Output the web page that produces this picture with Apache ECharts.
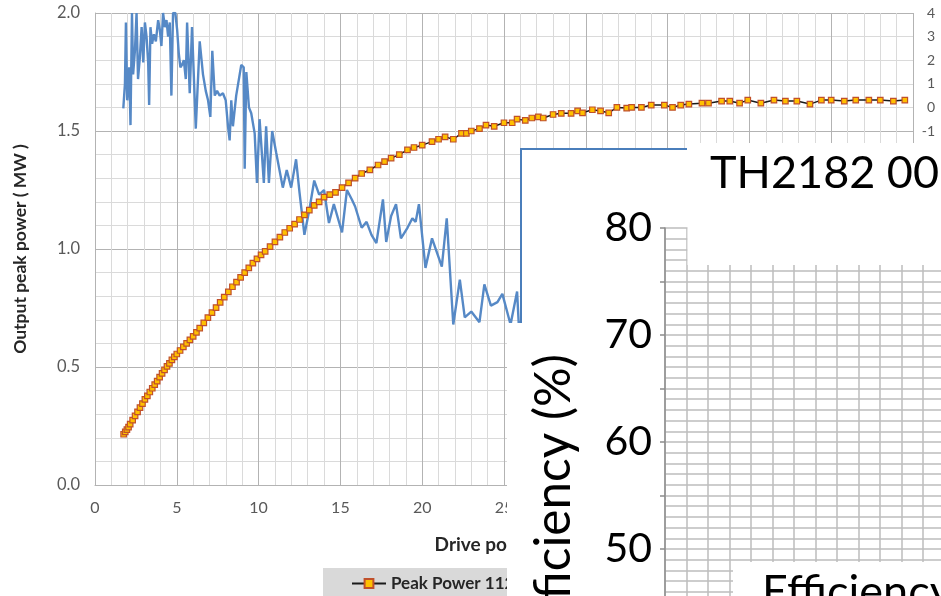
<!DOCTYPE html>
<html><head><meta charset="utf-8">
<script src="https://cdn.jsdelivr.net/npm/echarts@6/dist/echarts.min.js"></script>
<style>html,body{margin:0;padding:0;background:#fff}#c{width:941px;height:596px}</style>
</head><body><div id="c"></div>
<script>
// ---- data ----
const peakPowerName = 'Peak Power 1121';
const peakPower = [
[1.75,0.215],[1.85,0.225],[1.95,0.235],[2.05,0.245],[2.15,0.258],[2.3,0.275],[2.45,0.293],[2.6,0.31],[2.75,0.328],[2.9,0.345],
[3.05,0.363],[3.2,0.378],[3.35,0.394],[3.5,0.41],[3.65,0.425],[3.8,0.44],[3.95,0.457],[4.1,0.473],[4.25,0.488],[4.4,0.503],
[4.55,0.515],[4.7,0.53],[4.85,0.543],[5.0,0.555],[5.2,0.57],[5.4,0.585],[5.6,0.6],[5.8,0.615],[6.0,0.63],[6.2,0.647],
[6.4,0.665],[6.65,0.687],[6.9,0.709],[7.15,0.73],[7.4,0.752],[7.65,0.774],[7.9,0.796],[8.15,0.818],[8.4,0.84],[8.65,0.86],
[8.9,0.88],[9.15,0.9],[9.4,0.92],[9.65,0.94],[9.9,0.958],[10.15,0.975],[10.4,0.99],[10.7,1.01],[11.0,1.03],[11.3,1.05],
[11.6,1.07],[11.9,1.088],[12.2,1.105],[12.5,1.125],[12.8,1.145],[13.1,1.165],[13.4,1.185],[13.7,1.2],[14.0,1.22],[14.35,1.23],
[14.7,1.24],[15.1,1.26],[15.5,1.28],[15.9,1.3],[16.3,1.32],[16.8,1.335],[17.3,1.356],[17.7,1.37],[18.1,1.385],[18.6,1.4],
[19.1,1.42],[19.5,1.43],[20.0,1.44],[20.6,1.455],[21.0,1.465],[21.4,1.475],[21.9,1.465],[22.4,1.49],[22.7,1.49],[23.0,1.5],
[23.5,1.51],[23.9,1.525],[24.4,1.52],[25.0,1.535],[25.5,1.535],[25.8,1.55],[26.3,1.545],[26.7,1.555],[27.1,1.56],[27.4,1.555],
[28.0,1.57],[28.5,1.575],[29.1,1.575],[29.5,1.585],[29.8,1.577],[30.4,1.59],[30.9,1.585],[31.4,1.577],[31.9,1.6],[32.5,1.597],
[32.8,1.6],[33.4,1.6],[34.0,1.61],[34.8,1.61],[35.3,1.6],[35.8,1.61],[36.3,1.614],[37.1,1.618],[37.5,1.618],[38.3,1.627],
[38.8,1.627],[39.4,1.618],[39.9,1.631],[40.7,1.618],[41.5,1.631],[42.2,1.627],[42.9,1.627],[43.7,1.614],[44.4,1.631],[45.0,1.631],
[45.8,1.627],[46.5,1.631],[47.3,1.631],[48.0,1.631],[48.8,1.627],[49.5,1.631]
];
const gainName = 'Gain';
const gain = [
[1.73,1.596],[1.83,1.70],[1.89,1.96],[1.97,1.63],[2.09,1.77],[2.17,1.525],[2.26,2.0],[2.33,1.74],[2.44,1.84],[2.54,2.0],
[2.63,1.72],[2.74,1.81],[2.85,1.94],[2.95,1.79],[3.05,1.96],[3.15,1.90],[3.25,1.79],[3.31,1.61],[3.39,1.94],[3.49,1.87],
[3.6,1.91],[3.72,1.88],[3.86,1.97],[3.96,1.93],[4.06,1.86],[4.16,2.0],[4.27,1.94],[4.37,1.97],[4.47,1.90],[4.57,1.96],
[4.67,1.65],[4.77,2.0],[4.91,2.0],[5.02,1.93],[5.12,1.83],[5.22,1.77],[5.32,1.78],[5.43,1.80],[5.55,1.72],[5.63,1.96],
[5.79,1.66],[5.93,1.94],[6.16,1.51],[6.4,1.88],[6.6,1.74],[6.77,1.67],[6.91,1.63],[7.05,1.56],[7.17,1.84],[7.32,1.65],
[7.46,1.67],[7.62,1.65],[7.82,1.66],[7.99,1.63],[8.13,1.52],[8.23,1.46],[8.33,1.63],[8.43,1.52],[8.63,1.65],[8.94,1.78],
[9.09,1.77],[9.15,1.34],[9.25,1.75],[9.41,1.60],[9.55,1.575],[9.76,1.49],[9.9,1.28],[10.06,1.55],[10.32,1.28],[10.46,1.52],
[10.63,1.28],[10.83,1.50],[11.07,1.41],[11.48,1.26],[11.72,1.335],[11.99,1.26],[12.29,1.38],[12.5,1.24],[12.8,1.06],[13.1,1.165],
[13.4,1.29],[13.7,1.23],[14.0,1.25],[14.3,1.11],[14.6,1.19],[15.1,1.07],[15.4,1.25],[15.7,1.21],[15.9,1.18],[16.3,1.09],
[16.6,1.115],[16.9,1.06],[17.2,1.025],[17.6,1.21],[17.8,1.03],[18.1,1.14],[18.4,1.19],[18.7,1.045],[19.1,1.09],[19.4,1.13],
[19.6,1.115],[19.8,1.19],[20.2,0.92],[20.6,1.045],[21.2,0.925],[21.5,1.13],[21.9,0.68],[22.3,0.87],[22.6,0.71],[23.0,0.735],
[23.5,0.69],[23.8,0.85],[24.2,0.76],[24.6,0.775],[24.9,0.81],[25.4,0.68],[25.8,0.82],[25.9,0.685],[26.2,0.70]
];
// axis ranges / tick labels
const xRange = [0, 50, 5];        // drive power axis: min, max, step
const yLeftRange = [0, 2, 0.5];   // output peak power (MW)
const yRightRange = [-16, 4, 1];  // right axis
const effRange = [40, 80, 5];     // overlaid efficiency axis (%) ; labels at 80,70,60,50
const effXRange = [0, 13, 1];
const titleOverlay = 'TH2182 00';
const effTitle = 'Efficiency (%)';
const effXTitle = 'Efficiency';

const FONT = 'Lato';
const major = '#b3b3b3', minor = '#dadada';
const chart = echarts.init(document.getElementById('c'), null, {renderer:'canvas'});
chart.setOption({
  animation: false,
  textStyle: {fontFamily: FONT},
  grid: [
    {left: 95, top: 13, right: 28, bottom: 111, containLabel: false, outerBoundsMode: 'none'},
    {left: 665, top: 228, width: 279.5, height: 428, containLabel: false, outerBoundsMode: 'none'}
  ],
  legend: {
    left: 323, top: 568, orient: 'horizontal',
    backgroundColor: '#d9d9d9', padding: [7, 10, 7, 28], itemWidth: 34, itemHeight: 11, itemGap: 20,
    data: [peakPowerName, gainName],
    textStyle: {fontFamily: FONT, fontWeight: 'bold', fontSize: 17, color: '#262626'}
  },
  xAxis: [
    {type: 'value', gridIndex: 0, min: xRange[0], max: xRange[1], interval: xRange[2],
     name: 'Drive power ( W )', nameLocation: 'middle', nameGap: 50,
     nameTextStyle: {fontFamily: FONT, fontWeight: 'bold', fontSize: 19, color: '#262626', padding: [0, 0, 0, 10]},
     axisLine: {show: true, lineStyle: {color: major, width: 1}}, axisTick: {show: false},
     axisLabel: {fontSize: 16, color: '#595959', margin: 15, fontFamily: FONT},
     splitLine: {show: true, lineStyle: {color: major, width: 1}},
     minorTick: {show: false, splitNumber: 5},
     minorSplitLine: {show: true, lineStyle: {color: minor, width: 1}}},
    {type: 'value', gridIndex: 1, min: effXRange[0], max: effXRange[1], interval: effXRange[2], z: 60,
     axisLine: {show: false}, axisTick: {show: false}, axisLabel: {show: false},
     splitLine: {show: true, lineStyle: {color: '#bdbdbd', width: 1.5}}}
  ],
  yAxis: [
    {type: 'value', gridIndex: 0, min: yLeftRange[0], max: yLeftRange[1], interval: yLeftRange[2],
     name: 'Output peak power ( MW )', nameLocation: 'middle', nameGap: 66, nameRotate: 90,
     nameTextStyle: {fontFamily: FONT, fontWeight: 'bold', fontSize: 17.5, color: '#262626'},
     axisLine: {show: true, lineStyle: {color: major, width: 1}}, axisTick: {show: false},
     axisLabel: {fontSize: 16.5, color: '#595959', margin: 15, fontFamily: FONT, formatter: v => v.toFixed(1)},
     splitLine: {show: true, lineStyle: {color: major, width: 1}},
     minorTick: {show: false, splitNumber: 5},
     minorSplitLine: {show: true, lineStyle: {color: minor, width: 1}}},
    {type: 'value', gridIndex: 0, position: 'right', min: yRightRange[0], max: yRightRange[1], interval: yRightRange[2],
     axisLine: {show: false}, axisTick: {show: false}, splitLine: {show: false},
     axisLabel: {fontSize: 14, color: '#595959', margin: 22, align: 'right', fontFamily: FONT}},
    {type: 'value', gridIndex: 1, min: effRange[0], max: effRange[1], interval: effRange[2], z: 60,
     axisLine: {show: true, lineStyle: {color: '#8c8c8c', width: 1.5}},
     axisTick: {show: true, inside: false, length: 5, lineStyle: {color: '#8c8c8c', width: 1.5}},
     axisLabel: {fontSize: 41, color: '#000', margin: 13, fontFamily: FONT, formatter: v => (v % 10 === 0 ? String(v) : '')},
     splitLine: {show: true, lineStyle: {color: '#bdbdbd', width: 1.5}},
     minorTick: {show: false, splitNumber: 5},
     minorSplitLine: {show: true, lineStyle: {color: '#bdbdbd', width: 1.5}}}
  ],
  series: [
    {name: gainName, type: 'line', xAxisIndex: 0, yAxisIndex: 0, data: gain, showSymbol: false, symbol: 'none',
     lineStyle: {color: '#5689c6', width: 2.4}, itemStyle: {color: '#5689c6'}, z: 2},
    {name: peakPowerName, type: 'line', xAxisIndex: 0, yAxisIndex: 0, data: peakPower,
     symbol: 'rect', symbolSize: 5.5, showAllSymbol: true,
     lineStyle: {color: '#1a1a1a', width: 1.5},
     itemStyle: {color: '#ffc000', borderColor: '#c0502a', borderWidth: 1.2}, z: 3}
  ],
  graphic: [
    {type: 'rect', z: 50, shape: {x: 521, y: 149, width: 420, height: 447}, style: {fill: '#fff'}},
    {type: 'rect', z: 50, shape: {x: 507, y: 323, width: 434, height: 273}, style: {fill: '#fff'}},
    {type: 'line', z: 51, shape: {x1: 687, y1: 149, x2: 521, y2: 149}, style: {stroke: '#4a7ebb', lineWidth: 2}},
    {type: 'line', z: 51, shape: {x1: 521, y1: 148, x2: 521, y2: 323}, style: {stroke: '#4a7ebb', lineWidth: 2}},
    {type: 'rect', z: 70, shape: {x: 687.5, y: 143, width: 254, height: 122}, style: {fill: '#fff'}},
    {type: 'rect', z: 70, shape: {x: 733, y: 562, width: 208, height: 34}, style: {fill: '#fff'}},
    {type: 'text', z: 71, x: 710, y: 173,
     style: {text: titleOverlay, fontFamily: FONT, fontSize: 45, fill: '#000', textAlign: 'left', textVerticalAlign: 'middle', align: 'left', verticalAlign: 'middle'}},
    {type: 'text', z: 71, x: 762, y: 592,
     style: {text: effXTitle, fontFamily: FONT, fontSize: 45, fill: '#000', textAlign: 'left', textVerticalAlign: 'middle', align: 'left', verticalAlign: 'middle'}},
    {type: 'text', z: 71, x: 554, y: 354, rotation: Math.PI / 2,
     style: {text: effTitle, fontFamily: FONT, fontSize: 49.5, fill: '#000', textAlign: 'right', textVerticalAlign: 'middle', align: 'right', verticalAlign: 'middle'}}
  ]
});
</script></body></html>
